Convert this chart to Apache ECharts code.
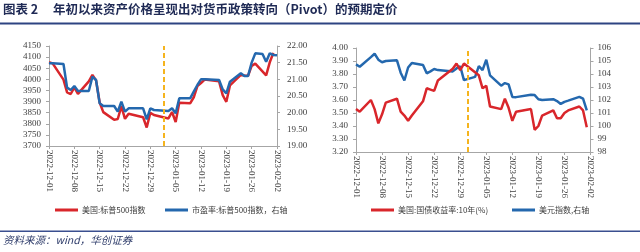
<!DOCTYPE html>
<html>
<head>
<meta charset="utf-8">
<script src="https://cdn.jsdelivr.net/npm/echarts@6/dist/echarts.min.js"></script>
<style>html,body{margin:0;padding:0;background:#fff}#c{width:640px;height:252px}</style>
</head>
<body>
<div id="c"></div>
<script>
// ---------- data ----------
const xTicks = ['2022-12-01','2022-12-08','2022-12-15','2022-12-22','2022-12-29','2023-01-05','2023-01-12','2023-01-19','2023-01-26','2023-02-02'];

const spxDates = ['2022-12-01','2022-12-02','2022-12-05','2022-12-06','2022-12-07','2022-12-08','2022-12-09','2022-12-12','2022-12-13','2022-12-14','2022-12-15','2022-12-16','2022-12-19','2022-12-20','2022-12-21','2022-12-22','2022-12-23','2022-12-27','2022-12-28','2022-12-29','2022-12-30','2023-01-03','2023-01-04','2023-01-05','2023-01-06','2023-01-09','2023-01-10','2023-01-11','2023-01-12','2023-01-13','2023-01-17','2023-01-18','2023-01-19','2023-01-20','2023-01-23','2023-01-24','2023-01-25','2023-01-26','2023-01-27','2023-01-30','2023-01-31','2023-02-01'];
const spx = [4076.6,4071.7,3998.8,3941.3,3933.9,3963.5,3934.4,3990.6,4019.7,3995.3,3895.8,3852.4,3817.7,3821.6,3878.4,3822.4,3844.8,3829.3,3783.2,3849.3,3839.5,3824.1,3853.0,3808.1,3895.1,3892.1,3919.3,3969.6,3983.2,3999.1,3991.0,3928.9,3898.9,3972.6,4019.8,4017.0,4016.2,4060.4,4070.6,4017.8,4076.6,4119.2];

const peDates = ['2022-12-01','2022-12-02','2022-12-05','2022-12-06','2022-12-07','2022-12-08','2022-12-09','2022-12-12','2022-12-13','2022-12-14','2022-12-15','2022-12-16','2022-12-19','2022-12-20','2022-12-21','2022-12-22','2022-12-23','2022-12-27','2022-12-28','2022-12-29','2022-12-30','2023-01-03','2023-01-04','2023-01-05','2023-01-06','2023-01-09','2023-01-10','2023-01-11','2023-01-12','2023-01-13','2023-01-17','2023-01-18','2023-01-19','2023-01-20','2023-01-23','2023-01-24','2023-01-25','2023-01-26','2023-01-27','2023-01-29','2023-01-30','2023-01-31','2023-02-01','2023-02-02'];
const pe = [21.48,21.48,21.46,20.75,20.68,20.80,20.65,20.65,21.08,20.98,20.28,20.20,20.20,20.03,20.33,20.03,20.13,20.13,19.80,20.13,20.08,20.05,20.13,19.98,20.43,20.43,20.63,20.83,21.00,21.00,20.98,20.70,20.58,20.93,21.18,21.10,21.10,21.50,21.78,21.76,21.53,21.78,21.73,21.72];

const ustDates = ['2022-12-01','2022-12-02','2022-12-05','2022-12-06','2022-12-07','2022-12-08','2022-12-09','2022-12-12','2022-12-13','2022-12-14','2022-12-15','2022-12-16','2022-12-19','2022-12-20','2022-12-21','2022-12-22','2022-12-23','2022-12-27','2022-12-28','2022-12-29','2022-12-30','2023-01-03','2023-01-04','2023-01-05','2023-01-06','2023-01-09','2023-01-10','2023-01-11','2023-01-12','2023-01-13','2023-01-17','2023-01-18','2023-01-19','2023-01-20','2023-01-23','2023-01-24','2023-01-25','2023-01-26','2023-01-27','2023-01-30','2023-01-31','2023-02-01'];
const ust = [3.53,3.51,3.60,3.53,3.42,3.49,3.58,3.61,3.51,3.48,3.44,3.48,3.59,3.69,3.68,3.67,3.75,3.84,3.88,3.83,3.88,3.79,3.69,3.71,3.55,3.53,3.61,3.54,3.44,3.51,3.53,3.37,3.40,3.48,3.52,3.46,3.46,3.50,3.52,3.55,3.52,3.39];

const dxyDates = ['2022-12-01','2022-12-02','2022-12-05','2022-12-06','2022-12-07','2022-12-08','2022-12-09','2022-12-12','2022-12-13','2022-12-14','2022-12-15','2022-12-16','2022-12-19','2022-12-20','2022-12-21','2022-12-22','2022-12-23','2022-12-27','2022-12-28','2022-12-29','2022-12-30','2023-01-02','2023-01-03','2023-01-04','2023-01-05','2023-01-06','2023-01-09','2023-01-10','2023-01-11','2023-01-12','2023-01-13','2023-01-17','2023-01-18','2023-01-19','2023-01-20','2023-01-23','2023-01-24','2023-01-25','2023-01-26','2023-01-27','2023-01-30','2023-01-31','2023-02-01'];
const dxy = [104.74,104.56,105.30,105.56,105.10,104.90,105.00,105.05,104.10,103.50,104.50,104.85,104.70,104.05,104.20,104.38,104.30,104.20,104.43,104.60,103.53,103.78,104.60,104.30,105.10,103.90,103.10,103.30,103.20,102.24,102.22,102.40,102.38,102.06,102.00,102.06,101.92,101.70,101.86,101.95,102.24,102.10,101.20];

const pivotLeft = 31.7;   // days after 2022-12-01
const pivotRight = 30;

// ---------- helpers ----------
const START = Date.parse('2022-12-01T00:00:00Z');
const dayOf = d => (Date.parse(d + 'T00:00:00Z') - START) / 86400000;
const pairs = (ds, vs) => ds.map((d, i) => [dayOf(d), vs[i]]);

const RED = '#D9262B', BLUE = '#2468AE', ORANGE = '#F5B41E';
const AX = '#A6A6A6', TXT = '#404040';
const NUMF = "'Liberation Serif','Times New Roman',serif";
const CJK = "'Noto Sans CJK SC','Noto Sans',sans-serif";

function xAxis(gi) {
  return {
    type: 'value', gridIndex: gi, min: 0, max: 63, interval: 7,
    axisLine: { show: true, lineStyle: { color: AX, width: 1 } },
    axisTick: { show: true, length: 3, lineStyle: { color: AX } },
    splitLine: { show: false },
    axisLabel: { rotate: -90, margin: 4, fontSize: 9, fontFamily: NUMF, color: TXT,
      formatter: v => xTicks[Math.round(v / 7)] || '' }
  };
}
function yAxis(gi, pos, min, max, interval, dec, margin) {
  return {
    type: 'value', gridIndex: gi, position: pos, min, max, interval,
    axisLine: { show: true, lineStyle: { color: AX, width: 1 } },
    axisTick: { show: true, length: 3, lineStyle: { color: AX } },
    splitLine: { show: false },
    axisLabel: { margin, fontSize: 9, fontFamily: NUMF, color: TXT,
      formatter: v => v.toFixed(dec) }
  };
}
function lineSeries(name, x, y, data, color, z) {
  return { name, type: 'line', xAxisIndex: x, yAxisIndex: y, data, showSymbol: false, symbol: 'none',
    lineStyle: { color, width: 2.5 }, itemStyle: { color }, z, animation: false };
}
function legend(name, left, color) {
  return { data: [name], left, top: 201, icon: 'rect', itemWidth: 23, itemHeight: 3, itemGap: 0,
    textStyle: { fontSize: 8, fontFamily: CJK, color: TXT, padding: [0, 0, 0, -1] } };
}
const pivotMark = v => ({ silent: true, symbol: 'none', label: { show: false },
  lineStyle: { color: ORANGE, width: 2, type: [5, 3] }, data: [{ xAxis: v }], animation: false });

const chart = echarts.init(document.getElementById('c'), null, { renderer: 'canvas' });
const s1 = lineSeries('美国:标普500指数', 0, 0, pairs(spxDates, spx), RED, 2);
s1.markLine = pivotMark(pivotLeft);
const s2 = lineSeries('市盈率:标普500指数，右轴', 0, 1, pairs(peDates, pe), BLUE, 3);
const s3 = lineSeries('美国:国债收益率:10年(%)', 1, 2, pairs(ustDates, ust), RED, 3);
s3.markLine = pivotMark(pivotRight);
const s4 = lineSeries('美元指数,右轴', 1, 3, pairs(dxyDates, dxy), BLUE, 2);

chart.setOption({
  animation: false,
  grid: [
    { left: 49, top: 46, width: 228, height: 100 },
    { left: 356, top: 48, width: 234.5, height: 104 }
  ],
  xAxis: [xAxis(0), xAxis(1)],
  yAxis: [
    yAxis(0, 'left', 3700, 4150, 50, 0, 8),
    yAxis(0, 'right', 19, 22, 0.5, 2, 10),
    yAxis(1, 'left', 3.2, 4.0, 0.1, 2, 8),
    yAxis(1, 'right', 98, 106, 1, 0, 7)
  ],
  legend: [
    legend('美国:标普500指数', 50, RED),
    legend('市盈率:标普500指数，右轴', 160, BLUE),
    legend('美国:国债收益率:10年(%)', 366, RED),
    legend('美元指数,右轴', 507, BLUE)
  ],
  graphic: [
    { type: 'text', left: 3, top: 3, style: { text: '图表 2', fontSize: 12.5, fontWeight: 'bold', fontFamily: CJK, fill: '#1F2A55' } },
    { type: 'text', left: 53, top: 3, style: { text: '年初以来资产价格呈现出对货币政策转向（Pivot）的预期定价', fontSize: 12.5, fontWeight: 'bold', fontFamily: CJK, fill: '#1F2A55' } },
    { type: 'rect', shape: { x: 0, y: 22.5, width: 640, height: 2 }, style: { fill: '#2E4482' } },
    { type: 'rect', shape: { x: 0, y: 230.5, width: 640, height: 1.5 }, style: { fill: '#3A4F8F' } },
    { type: 'text', left: 3, top: 235, style: { text: '资料来源：wind，华创证券', fontSize: 10.5, fontStyle: 'italic', fontFamily: CJK, fill: '#2F3D6B' } }
  ],
  series: [s1, s2, s3, s4]
});
</script>
</body>
</html>
